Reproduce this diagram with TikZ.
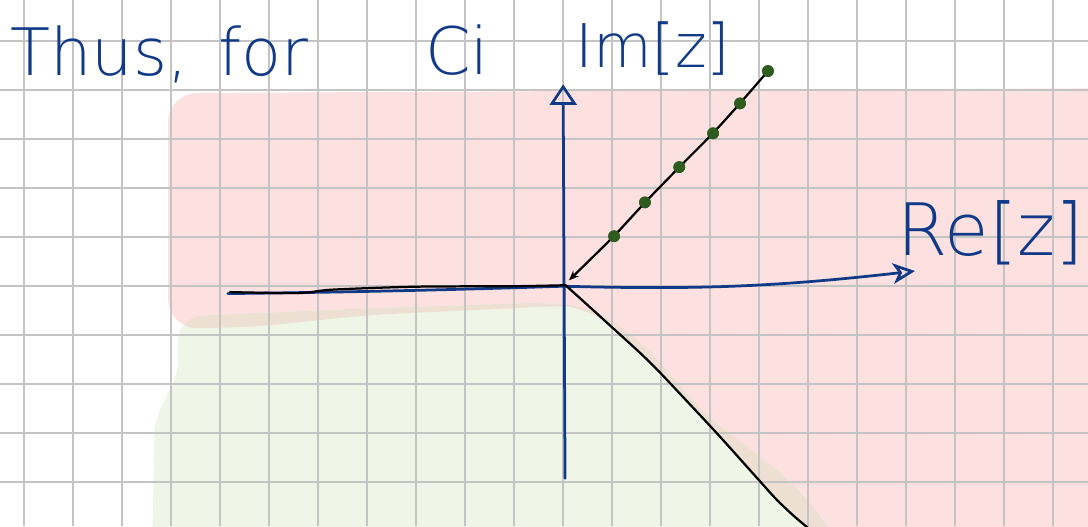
\documentclass[tikz,border=0pt]{standalone}
\usepackage{fontspec}
\newfontfamily\handfont{DejaVu Sans ExtraLight}
\usetikzlibrary{arrows.meta}
\definecolor{penblue}{RGB}{16,58,135}
\definecolor{pengreen}{RGB}{46,92,30}
\definecolor{gridgray}{RGB}{196,196,196}
\definecolor{softpink}{RGB}{253,224,224}
\definecolor{softgreen}{RGB}{239,246,232}
\definecolor{softbeige}{RGB}{238,223,211}
\newcommand{\pinkzone}{(-8.06,3.94) -- (11.5,4.04) -- (11.5,-5.6) -- (5.6,-5.6) -- (4.49,-4.51) -- (3.14,-3.0) -- (1.78,-1.51) -- (0.55,-0.43) -- (0,-0.40) -- (-4,-0.59) -- (-6.39,-0.84) -- (-8.06,-0.86) -- cycle}
\newcommand{\greenzone}{(-8.39,-5.6) -- (-8.33,-2.5) -- (-7.86,-2.02) -- (-7.86,-0.62) -- (-4,-0.45) -- (-0.27,-0.33) -- (0.61,-0.45) -- (1.57,-1.10) -- (3.0,-2.73) -- (3.96,-3.41) -- (4.9,-4.22) -- (5.9,-5.6) -- cycle}

\begin{document}
\begin{tikzpicture}[
    axis/.style={penblue, line width=1.6pt, line cap=round, line join=round},
    curve/.style={black, line width=1.3pt, line cap=round, line join=round},
    dot/.style={circle, fill=pengreen, inner sep=0pt, minimum size=0.24cm},
    hand/.style={text=penblue, inner sep=0pt, anchor=base west, font=\handfont\fontsize{38}{38}\selectfont}]
    \useasboundingbox (-11.49,-4.9) rectangle (10.71,5.84);
    \fill[white] (-11.49,-4.9) rectangle (10.71,5.84);
    \fill[softpink, rounded corners=0.6cm] \pinkzone;
    \fill[softgreen, rounded corners=0.5cm] \greenzone;
    \begin{scope}
      \clip[rounded corners=0.6cm] \pinkzone;
      \fill[softbeige, rounded corners=0.5cm] \greenzone;
    \end{scope}
    \draw[gridgray, line width=0.9pt] (-11.49,-4.9) grid (10.71,5.84);

    \coordinate (O) at (0,0);
    \coordinate (reL) at (-6.84,-0.15);
    \coordinate (reR) at (7.18,0.31);
    \coordinate (imB) at (0.04,-3.92);
    \coordinate (imT) at (0,4.12);
    \coordinate (tip) at (0.12,0.12);

    \draw[axis] (reL) .. controls (-4,-0.12) and (-1.5,-0.05) .. (O);
    \draw[axis, -{Stealth[open, length=0.45cm, width=0.42cm, inset=0.12cm]}] (O) to[bend right=4] (reR);
    \draw[axis, -{Triangle[open, length=0.42cm, width=0.55cm]}] (imB) -- (imT);

    \draw[curve] plot[smooth] coordinates {(-6.8,-0.12) (-5.4,-0.14) (-4.7,-0.07) (-3,-0.01) (-1,0.0) (0.05,0.02)};
    \draw[curve, rounded corners=0.4cm] (0.05,0.02) -- (0.55,-0.43) -- (1.78,-1.55) -- (3.14,-3.0) -- (4.49,-4.51) -- (5.2,-5.1);

    \node[dot] (p1) at (1.04,1.02) {};
    \node[dot] (p2) at (1.67,1.71) {};
    \node[dot] (p3) at (2.37,2.43) {};
    \node[dot] (p4) at (3.06,3.12) {};
    \node[dot] (p5) at (3.61,3.73) {};
    \node[dot] (p6) at (4.18,4.39) {};
    \draw[curve, rounded corners=0.3cm, -{Stealth[length=0.2cm, width=0.16cm]}] (p6.center) -- (p5.center) -- (p4.center) -- (p3.center) -- (p2.center) -- (p1.center) -- (tip);
    \foreach \p in {p1,p2,p3,p4,p5,p6}
      \node[dot] at (\p) {};

    \node[hand] (thus) at (-11.29,4.29) {Thus,};
    \node[hand] (for) at (-7.04,4.29) {for};
    \node[hand] (ci) at (-2.82,4.31) {Ci};
    \node[hand, font=\handfont\fontsize{35}{35}\selectfont] (im) at (0.24,4.47) {Im[z]};
    \node[hand, font=\handfont\fontsize{42}{42}\selectfont] (re) at (6.82,0.63) {Re[z]};
  \end{tikzpicture}
\end{document}
